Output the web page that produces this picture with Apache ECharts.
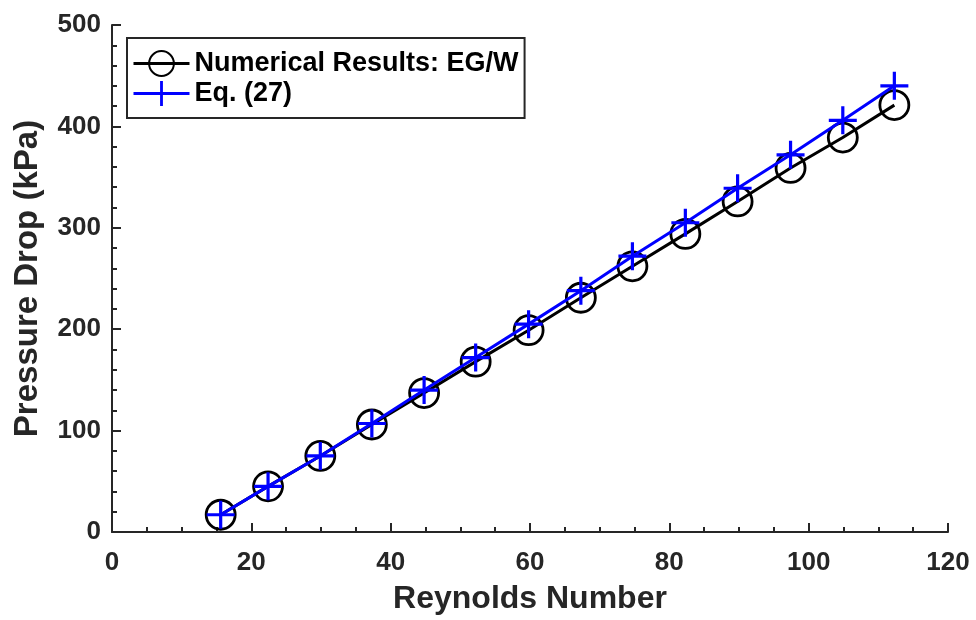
<!DOCTYPE html>
<html><head><meta charset="utf-8">
<script src="https://cdn.jsdelivr.net/npm/echarts@6/dist/echarts.min.js"></script>
<style>html,body{margin:0;padding:0;background:#fff}#c{width:976px;height:620px}</style>
</head><body><div id="c"></div>
<script>
var reynolds = [15.6, 22.4, 29.9, 37.3, 44.8, 52.2, 59.8, 67.3, 74.7, 82.3, 89.8, 97.4, 104.9, 112.3];
var numerical = [17, 45, 75, 106, 137, 168, 199, 231, 262, 294, 326, 359, 389, 421];
var equation = [17, 45, 75, 107, 140, 172, 205, 238, 272, 305, 339, 372, 406, 440];
var xTicks = [0, 20, 40, 60, 80, 100, 120];
var yTicks = [0, 100, 200, 300, 400, 500];
var seriesNames = ['Numerical Results: EG/W', 'Eq. (27)'];

var FONT = '"Liberation Sans", Arial, sans-serif';
var plusPath = 'path://M-1.6,-14L1.6,-14L1.6,-1.6L14,-1.6L14,1.6L1.6,1.6L1.6,14L-1.6,14L-1.6,1.6L-14,1.6L-14,-1.6L-1.6,-1.6Z';
function pairs(xs, ys){ return xs.map(function(x,i){return [x, ys[i]];}); }

var chart = echarts.init(document.getElementById('c'), null, {renderer:'canvas'});
chart.setOption({
  animation: false,
  backgroundColor: '#fff',
  grid: {left: 112, right: 28, top: 25, bottom: 86, containLabel: false},
  legend: {
    orient: 'vertical', left: 127, top: 38,
    backgroundColor: '#fff',
    borderColor: '#262626', borderWidth: 2, borderRadius: 0,
    padding: [12, 6, 11, 5],
    itemGap: 3,
    itemWidth: 56, itemHeight: 31,
    lineStyle: {width: 3},
    textStyle: {fontFamily: FONT, fontWeight: 'bold', fontSize: 27, color: '#000'},
    data: seriesNames
  },
  xAxis: {
    type: 'value', min: xTicks[0], max: xTicks[xTicks.length-1], interval: 20,
    name: 'Reynolds Number', nameLocation: 'middle', nameGap: 51,
    nameTextStyle: {fontFamily: FONT, fontWeight: 'bold', fontSize: 32, color: '#262626'},
    axisLine: {show: true, lineStyle: {color: '#262626', width: 2}},
    axisTick: {show: true, inside: true, length: 9, lineStyle: {color: '#262626', width: 2}},
    minorTick: {show: true, splitNumber: 4, length: 5, lineStyle: {color: '#262626', width: 2}},
    axisLabel: {fontFamily: FONT, fontWeight: 'bold', fontSize: 26, color: '#262626', margin: 18},
    splitLine: {show: false}
  },
  yAxis: {
    type: 'value', min: yTicks[0], max: yTicks[yTicks.length-1], interval: 100,
    name: 'Pressure Drop (kPa)', nameLocation: 'middle', nameGap: 68,
    nameTextStyle: {fontFamily: FONT, fontWeight: 'bold', fontSize: 33, color: '#262626'},
    axisLine: {show: true, lineStyle: {color: '#262626', width: 2}},
    axisTick: {show: true, inside: true, length: 9, lineStyle: {color: '#262626', width: 2}},
    minorTick: {show: true, splitNumber: 5, length: 5, lineStyle: {color: '#262626', width: 2}},
    axisLabel: {fontFamily: FONT, fontWeight: 'bold', fontSize: 26, color: '#262626', margin: 11},
    splitLine: {show: false}
  },
  series: [
    {
      name: seriesNames[0], type: 'line', data: pairs(reynolds, numerical),
      symbol: 'circle', symbolSize: 29,
      lineStyle: {color: '#000', width: 3},
      itemStyle: {color: 'rgba(0,0,0,0)', borderColor: '#000', borderWidth: 2.8},
      z: 2
    },
    {
      name: seriesNames[1], type: 'line', data: pairs(reynolds, equation),
      symbol: plusPath, symbolSize: 28,
      lineStyle: {color: '#0000ff', width: 3},
      itemStyle: {color: '#0000ff', borderWidth: 0},
      z: 3
    }
  ]
});
</script></body></html>
